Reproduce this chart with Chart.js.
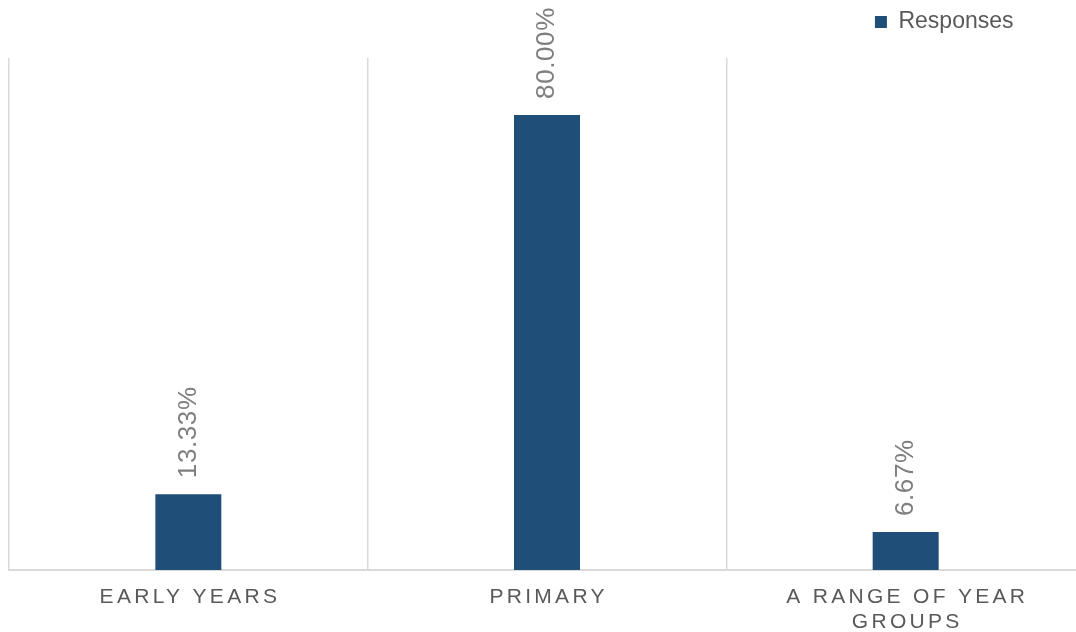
<!DOCTYPE html>
<html>
<head>
<meta charset="utf-8">
<script src="https://cdn.jsdelivr.net/npm/chart.js@4"></script>
<style>
  html, body { margin: 0; padding: 0; background: #fff; overflow: hidden; }
  /* plot runs slightly past the right edge of the window, like the original */
  #wrap { width: 1085px; height: 632px; }
</style>
</head>
<body>
<div id="wrap"><canvas id="chart"></canvas></div>
<script>
// data
const categories = ['EARLY YEARS', 'PRIMARY', ['A RANGE OF YEAR', 'GROUPS']];
const responses = [13.33, 80.00, 6.67];
const seriesName = 'Responses';
const yMax = 90;

Chart.defaults.font.family = '"Liberation Sans", Arial, sans-serif';

// category labels (letter spaced) and rotated value labels
const labelPlugin = {
  id: 'labelPlugin',
  afterLayout(chart) {
    // move legend in from the right edge
    chart.legend.left -= 61;
    chart.legend.right -= 61;
  },
  afterDraw(chart) {
    const ctx = chart.ctx;
    const xs = chart.scales.x;
    const meta = chart.getDatasetMeta(0);

    ctx.save();
    ctx.font = '21px "Liberation Sans", Arial, sans-serif';
    ctx.fillStyle = '#595959';
    ctx.letterSpacing = '3.3px';
    ctx.textAlign = 'center';
    ctx.textBaseline = 'middle';
    categories.forEach((lab, i) => {
      const lines = Array.isArray(lab) ? lab : [lab];
      const x = xs.getPixelForValue(i) + 1.6;
      lines.forEach((ln, j) => {
        ctx.fillText(ln, x, xs.top + 27.5 + j * 25);
      });
    });
    ctx.restore();

    ctx.save();
    ctx.font = '26px "Liberation Sans", Arial, sans-serif';
    ctx.fillStyle = '#7f7f7f';
    ctx.letterSpacing = '0.6px';
    ctx.textAlign = 'left';
    ctx.textBaseline = 'middle';
    meta.data.forEach((bar, i) => {
      ctx.save();
      ctx.translate(bar.x, bar.y - 16);
      ctx.rotate(-Math.PI / 2);
      ctx.fillText(responses[i].toFixed(2) + '%', 0, 0);
      ctx.restore();
    });
    ctx.restore();
  }
};

const ctx = document.getElementById('chart');

new Chart(ctx, {
  type: 'bar',
  data: {
    labels: categories,
    datasets: [{
      label: seriesName,
      data: responses,
      backgroundColor: '#1f4e79',
      borderWidth: 0,
      categoryPercentage: 1,
      barPercentage: 0.184
    }]
  },
  options: {
    responsive: true,
    maintainAspectRatio: false,
    animation: false,
    layout: { padding: { left: 9, right: 0, top: 0, bottom: 0 } },
    plugins: {
      legend: {
        position: 'top',
        align: 'end',
        labels: {
          boxWidth: 12,
          boxHeight: 12,
          padding: 10.5,
          color: '#595959',
          font: { size: 23 }
        }
      },
      tooltip: { enabled: false }
    },
    scales: {
      x: {
        offset: true,
        grid: { display: true, color: '#d9d9d9', lineWidth: 1.5, drawTicks: false },
        border: { display: true, color: '#d9d9d9', width: 2 },
        ticks: { display: false },
        afterFit: (scale) => { scale.height = 62; }
      },
      xTop: {
        type: 'category',
        position: 'top',
        grid: { display: false },
        border: { display: false },
        ticks: { display: false },
        afterFit: (scale) => { scale.height = 14.5; }
      },
      y: {
        display: false,
        min: 0,
        max: yMax
      }
    }
  },
  plugins: [labelPlugin]
});
</script>
</body>
</html>
